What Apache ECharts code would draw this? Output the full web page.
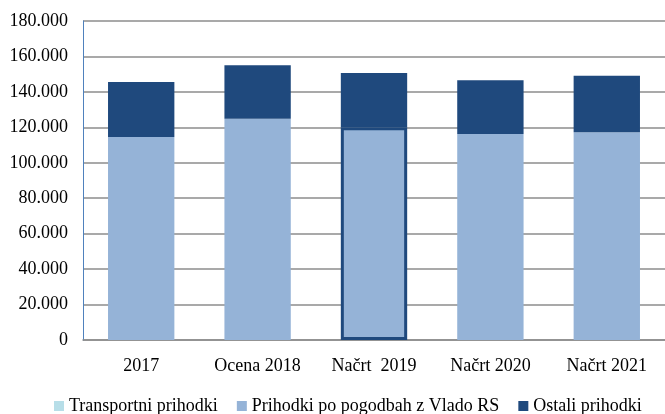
<!DOCTYPE html>
<html>
<head>
<meta charset="utf-8">
<script src="https://cdn.jsdelivr.net/npm/echarts@6/dist/echarts.min.js"></script>
<style>html,body{margin:0;padding:0;background:#fff}#c{width:665px;height:414px}</style>
</head>
<body>
<div id="c"></div>
<script>
const categories = ['2017', 'Ocena 2018', 'Načrt  2019', 'Načrt 2020', 'Načrt 2021'];
const transportni = [0, 0, 0, 0, 0];
const pogodbe = [114500, 124900, 120000, 116200, 117200];
const ostali = [31100, 30100, 30600, 30300, 31900];
const yTicks = [0, 20000, 40000, 60000, 80000, 100000, 120000, 140000, 160000, 180000];

function fmt(v) {
  return String(v).replace(/\B(?=(\d{3})+(?!\d))/g, '.');
}
const font = 'Liberation Serif';
const chart = echarts.init(document.getElementById('c'), null, {renderer: 'canvas'});
chart.setOption({
  animation: false,
  textStyle: {fontFamily: font, color: '#000'},
  grid: {left: 83, right: -6, top: 21, bottom: 74},
  legend: {
    left: 49, top: 392,
    itemWidth: 10, itemHeight: 10, itemGap: 19,
    icon: 'rect',
    textStyle: {fontFamily: font, fontSize: 18, color: '#000'},
    data: ['Transportni prihodki', 'Prihodki po pogodbah z Vlado RS', 'Ostali prihodki']
  },
  xAxis: {
    type: 'category',
    data: categories,
    axisLine: {lineStyle: {color: '#8c8c8c', width: 1.5}},
    axisTick: {show: false},
    axisLabel: {fontFamily: font, fontSize: 18, color: '#000', margin: 17}
  },
  yAxis: {
    type: 'value',
    min: yTicks[0], max: yTicks[yTicks.length - 1], interval: 20000,
    axisLine: {show: true, lineStyle: {color: '#4F81BD', width: 1}},
    axisTick: {show: false},
    splitLine: {lineStyle: {color: '#8c8c8c', width: 1.5}},
    axisLabel: {fontFamily: font, fontSize: 18, color: '#000', margin: 15, formatter: fmt}
  },
  series: [
    {name: 'Transportni prihodki', type: 'bar', stack: 's', barWidth: '57%',
     itemStyle: {color: '#B7DEE8'}, data: transportni},
    {name: 'Prihodki po pogodbah z Vlado RS', type: 'bar', stack: 's', barWidth: '57%',
     itemStyle: {color: '#95B3D7'},
     data: pogodbe.map((v, i) => i === 2 ? {value: v, itemStyle: {borderColor: '#1F497D', borderWidth: 3}} : v)},
    {name: 'Ostali prihodki', type: 'bar', stack: 's', barWidth: '57%',
     itemStyle: {color: '#1F497D'}, data: ostali}
  ]
});
</script>
</body>
</html>
